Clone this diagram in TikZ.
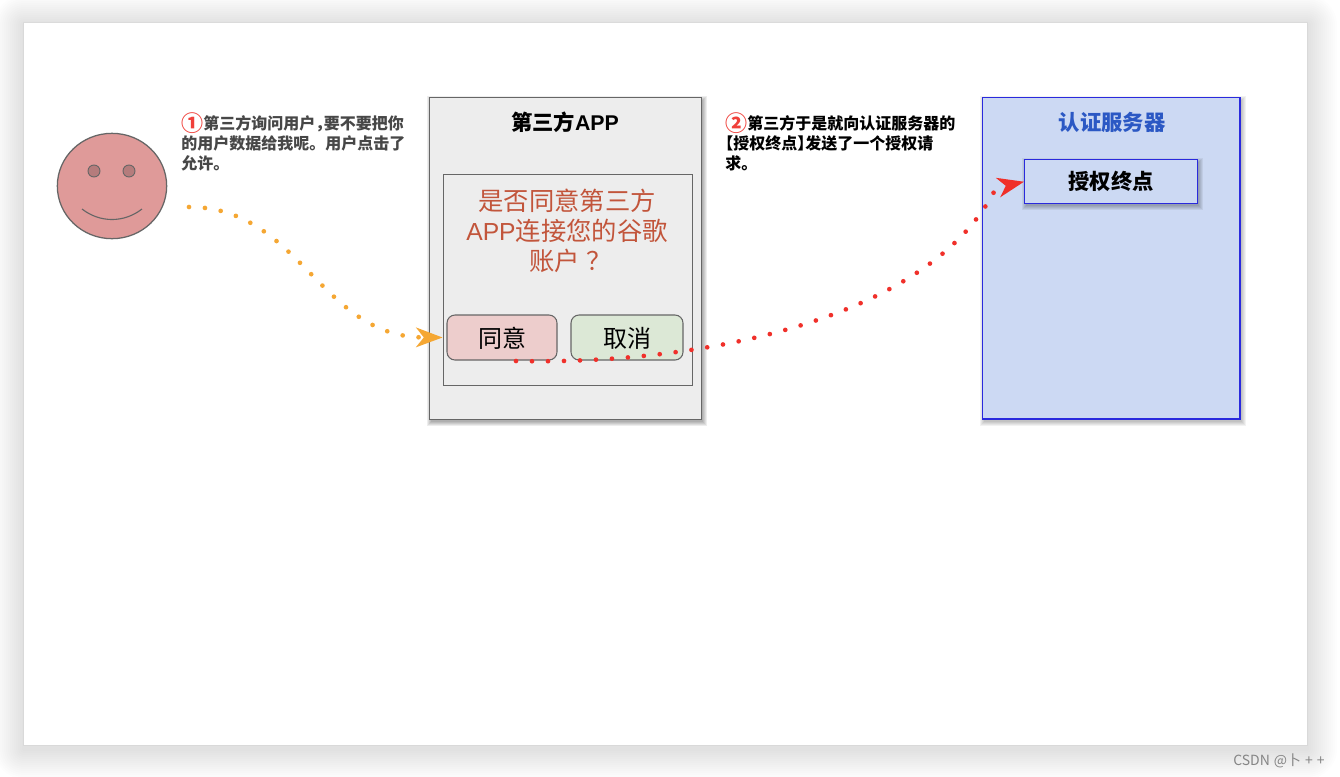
\documentclass[tikz,border=0pt]{standalone}
\usepackage{fontspec}
\usetikzlibrary{arrows.meta,shapes.geometric}
\setmainfont{Liberation Sans}
\newfontfamily\cjk{Noto Sans CJK SC}
\newcommand{\cjkb}{\cjk\bfseries}
\newcommand{\pxf}[2]{\fontsize{#1}{#2}\selectfont}
\newcommand{\numcircle}[1]{\smash{\raisebox{-1pt}{\textcolor{circlered}{\cjk\bfseries\pxf{16.5}{15}#1}}}}
\definecolor{boxgray}{HTML}{EDEDED}
\definecolor{edgegray}{HTML}{666666}
\definecolor{facepink}{HTML}{DF9A99}
\definecolor{eyepink}{HTML}{B57C7C}
\definecolor{agreefill}{HTML}{EDCDCC}
\definecolor{cancelfill}{HTML}{DCE8D6}
\definecolor{bluefill}{HTML}{CCD9F3}
\definecolor{blueedge}{HTML}{2A2ADD}
\definecolor{bluetext}{HTML}{2B58C4}
\definecolor{asktext}{HTML}{C2553B}
\definecolor{orangeline}{HTML}{F5A733}
\definecolor{redline}{HTML}{F0302A}
\definecolor{circlered}{HTML}{F0403A}
\tikzset{
  x=0.75pt,y=-0.75pt,
  dotted line/.style={line width=3.5pt,line cap=round,dash pattern=on 0pt off 12pt},
  note/.style={align=left,anchor=north west,inner sep=0pt,font=\cjkb\pxf{12}{15}},
  title/.style={inner sep=0pt,font=\cjkb\pxf{16}{20}},
  btn/.style={draw=edgegray,line width=0.8pt,rounded corners=6pt,inner sep=0pt},
  btntext/.style={inner sep=0pt,font=\cjk\pxf{18}{22}},
  grayedge/.style={draw=edgegray,line width=1.05pt,inner sep=0pt},
  blueline/.style={draw=blueedge,line width=1.1pt,inner sep=0pt}
}
\begin{document}
\begin{tikzpicture}
\useasboundingbox (0,0) rectangle (1340,776);
\fill[white] (0,0) rectangle (1340,776);
% page shadow
\foreach \r in {2,4,...,30}{
  \fill[black,opacity=0.0085,rounded corners=\r*0.75pt] (24-\r,25-\r) rectangle (1307+\r,749+\r);
}
\fill[black,opacity=0.03] (23,22) rectangle (1308,746);
\fill[white] (24,23) rectangle (1307,745);

% face
\node[draw=edgegray,line width=0.95pt,fill=facepink,ellipse,minimum width=82pt,minimum height=79pt,inner sep=0pt] (face) at (112,186) {};
\node[draw=edgegray,line width=0.7pt,fill=eyepink,circle,minimum size=9pt,inner sep=0pt] (eyeL) at (94,171) {};
\node[draw=edgegray,line width=0.7pt,fill=eyepink,circle,minimum size=9pt,inner sep=0pt] (eyeR) at (129,171) {};
\draw[edgegray,line width=0.85pt] (82,209) .. controls (100,223) and (124,223) .. (142,209);

% notes
\node[note,text=black!72] (note1) at (181,115.5) {\numcircle{①}第三方询问用户\hbox to 6.5pt{，\hss}要不要把你\\的用户数据给我呢。用户点击了\\允许。};
\node[note,text=black] (note2) at (725,115.5) {\numcircle{②}第三方于是就向认证服务器的\\\hbox to 6pt{\hss【}授权终点\hbox to 6pt{】\hss}发送了一个授权请\\求。};

% third-party app
\foreach \r in {0,1,2,3,4}{
  \fill[black,opacity=0.07] (431-\r,100-\r) rectangle (703+\r,422+\r);
}
\node[grayedge,fill=boxgray,minimum width=204pt,minimum height=241.5pt,anchor=north west] (app) at (429,97) {};
\node[title] (apptitle) at (565,122) {第三方{\rmfamily\bfseries APP}};
\node[grayedge,line width=0.9pt,fill=none,minimum width=186.75pt,minimum height=158.25pt,anchor=north west] (dialog) at (443,174) {};
\node[align=center,inner sep=0pt,text=asktext,font=\cjk\pxf{19}{22.5}] (ask) at (567,231) {是否同意第三方\\{\rmfamily\pxf{18.5}{22.5}APP}连接您的谷歌\\\hspace*{0.3em}账户\hspace{0.28em}？};
\node[btn,fill=agreefill,minimum width=82.5pt,minimum height=33.75pt] (agree) at (502,337.5) {};
\node[btntext] (agreet) at (502,338) {同意};
\node[btn,fill=cancelfill,minimum width=84pt,minimum height=33.75pt] (cancel) at (627,337.5) {};
\node[btntext] (cancelt) at (627,338) {取消};

% auth server
\foreach \r in {0,1,2,3,4}{
  \fill[black,opacity=0.05] (984-\r,100-\r) rectangle (1242+\r,422+\r);
}
\node[blueline,fill=bluefill,minimum width=193pt,minimum height=241pt,anchor=north west] (auth) at (982,97) {};
\node[title,text=bluetext] (authtitle) at (1112,122) {认证服务器};
\foreach \r in {0,1,2,3,4}{
  \fill[black,opacity=0.06] (1026-\r,162-\r) rectangle (1199+\r,206+\r);
}
\node[blueline,fill=bluefill,minimum width=129.5pt,minimum height=33pt,anchor=north west] (endpoint) at (1024,159) {};
\node[title] (endpointt) at (1111,181) {授权终点};

% connectors
\coordinate (userout) at (189,207);
\coordinate (redstart) at (516,361);
\coordinate (redbend) at (996,188);
\draw[orangeline,dotted line,shorten >=3pt,-{Stealth[length=20pt,width=15pt,inset=6pt,line width=0pt]}]
  (userout) .. controls (300,207) and (320,337) .. (agree.west);
\draw[redline,dotted line,-{Stealth[length=20pt,width=15pt,inset=6pt,line width=0pt]}]
  (redstart) .. controls (700,365) and (930,320) .. (redbend) -- (endpoint.west);

% watermark
\node[inner sep=0pt,anchor=east,text=black!48,font=\cjk\pxf{10.5}{12}] (mark) at (1325,760.5) {CSDN\hspace{3pt}@卜\hspace{3pt}+\hspace{3pt}+};
\end{tikzpicture}
\end{document}
